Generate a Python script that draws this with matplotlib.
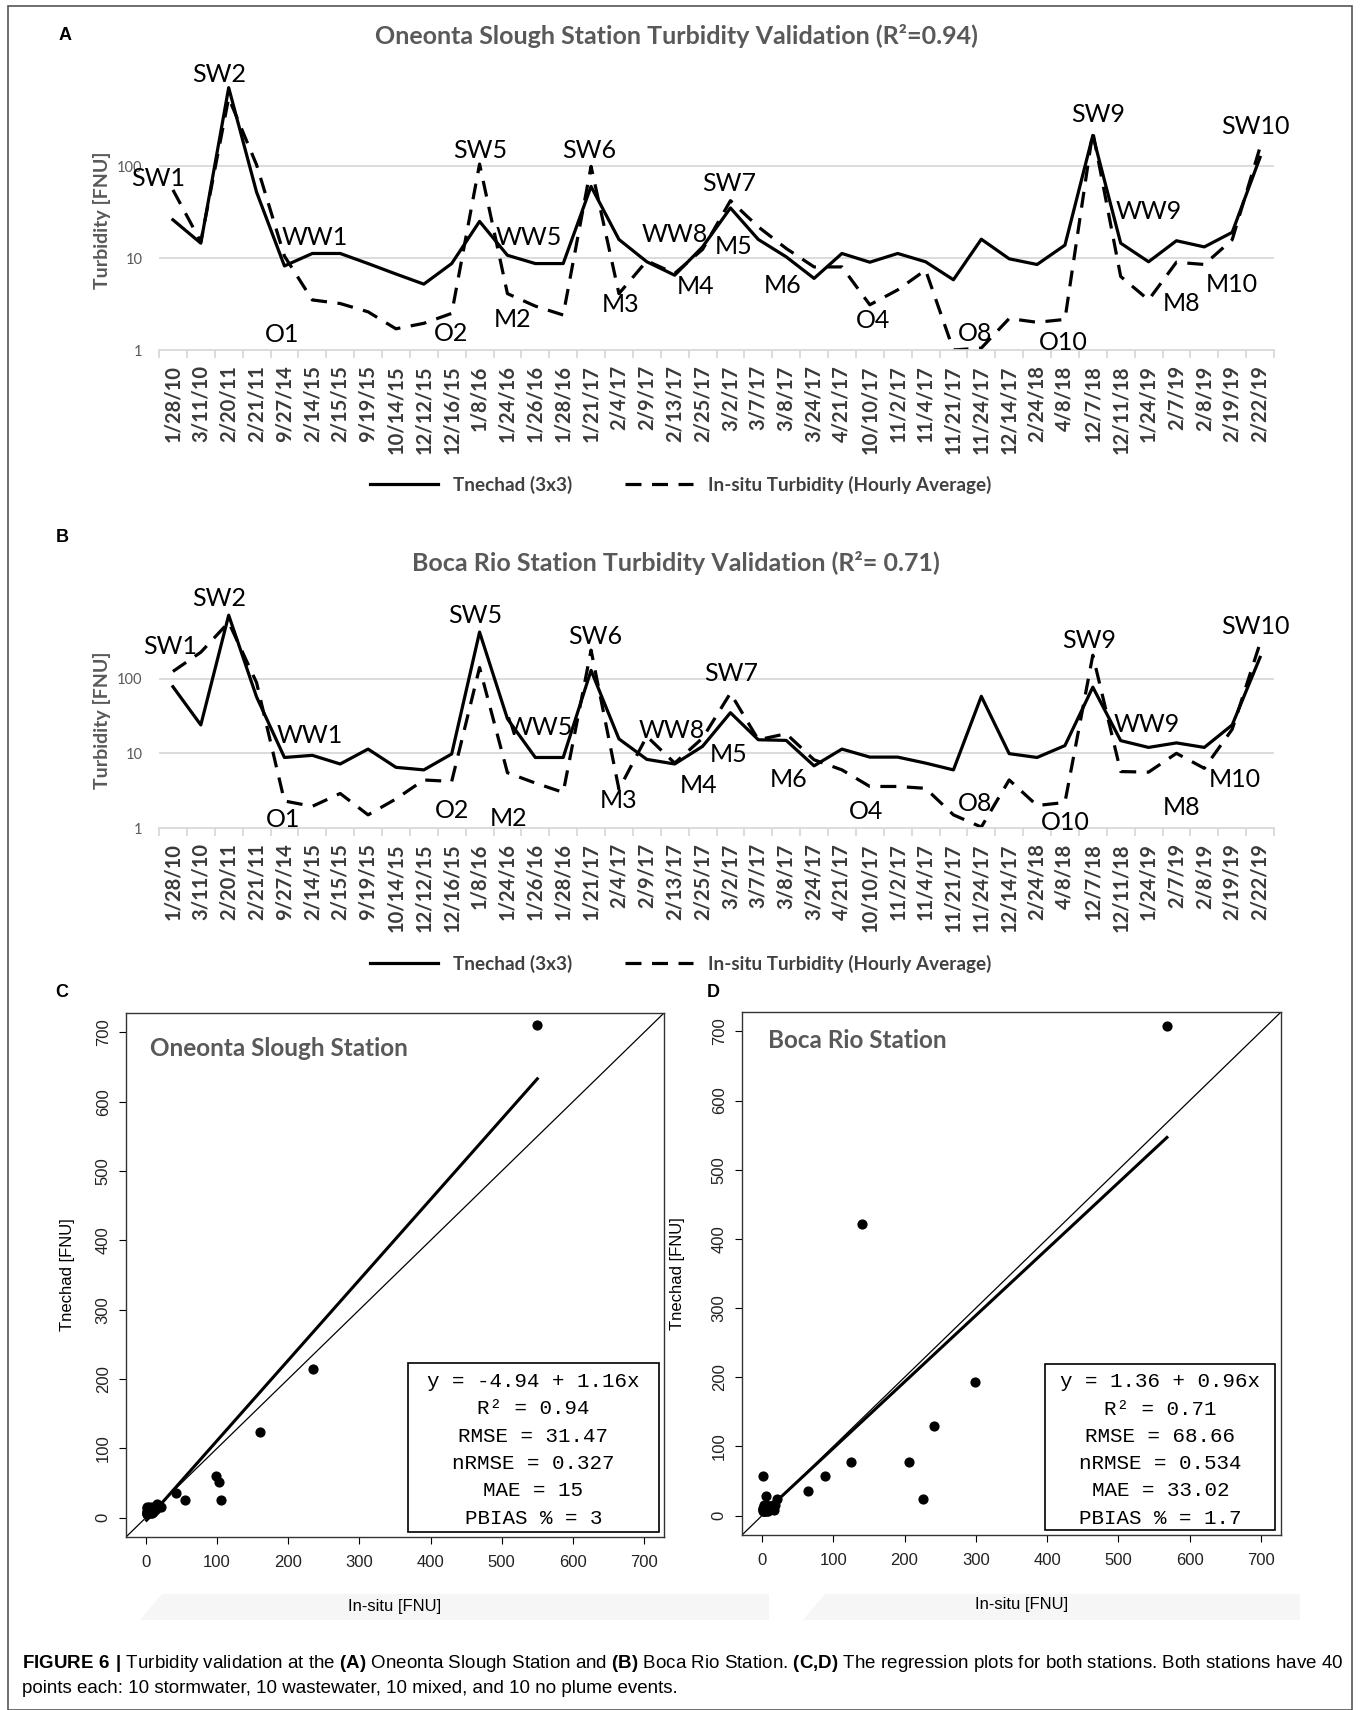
import numpy as np
import matplotlib
matplotlib.use('Agg')
import matplotlib.pyplot as plt
from matplotlib.lines import Line2D
from matplotlib.patches import Rectangle, Polygon
from matplotlib.ticker import NullLocator

plt.rcParams['font.family'] = ['Lato', 'DejaVu Sans']
plt.rcParams['mathtext.fontset'] = 'custom'
plt.rcParams['mathtext.rm'] = 'Liberation Sans'
plt.rcParams['mathtext.bf'] = 'Liberation Sans:bold'

# event dates (x axis of A and B)
dates = ['1/28/10', '3/11/10', '2/20/11', '2/21/11', '9/27/14', '2/14/15', '2/15/15', '9/19/15',
         '10/14/15', '12/12/15', '12/16/15', '1/8/16', '1/24/16', '1/26/16', '1/28/16', '1/21/17',
         '2/4/17', '2/9/17', '2/13/17', '2/25/17', '3/2/17', '3/7/17', '3/8/17', '3/24/17',
         '4/21/17', '10/10/17', '11/2/17', '11/4/17', '11/21/17', '11/24/17', '12/14/17', '2/24/18',
         '4/8/18', '12/7/18', '12/11/18', '1/24/19', '2/7/19', '2/8/19', '2/19/19', '2/22/19']

# Oneonta Slough: satellite (Tnechad) and in-situ turbidity [FNU]
tn_a = [26, 14.5, 710, 52, 8.2, 11.2, 11.2, 8.7, 6.7, 5.2, 8.7, 25, 10.7, 8.7, 8.7, 60,
        15.9, 9.1, 6.5, 13.2, 35, 15.9, 10.3, 6.0, 11.2, 9.0, 11.2, 9.1, 5.8, 16,
        9.8, 8.5, 13.8, 215, 14.5, 9.1, 15.4, 13.2, 19, 124]
is_a = [55, 15, 550, 103, 10.5, 3.5, 3.2, 2.6, 1.7, 1.95, 2.5, 105, 4.1, 3.0, 2.4, 99,
        4.1, 9.3, 6.8, 12.4, 42, 21.8, 12.7, 8.0, 8.0, 3.1, 4.5, 7.4, 1.0, 1.05,
        2.2, 2.0, 2.15, 235, 6.3, 3.5, 9.0, 8.5, 15.8, 160]

# Boca Rio
tn_b = [78, 24, 708, 57, 8.8, 9.4, 7.2, 11.4, 6.5, 6.0, 9.8, 421, 29, 8.8, 8.8, 129,
        15.6, 8.3, 7.2, 12.4, 35, 15.2, 14.9, 6.8, 11.4, 8.9, 8.9, 7.4, 6.0, 58,
        9.9, 8.8, 12.7, 77, 14.8, 12.0, 13.8, 12.0, 24, 193]
is_b = [125, 226, 568, 88.5, 2.3, 1.95, 2.9, 1.5, 2.45, 4.4, 4.2, 141, 5.5, 4.0, 3.0, 241,
        3.3, 16.9, 7.4, 16, 64, 15.2, 18.3, 8.2, 6.0, 3.6, 3.6, 3.4, 1.5, 1.03,
        4.4, 2.0, 2.2, 206, 5.7, 5.6, 10, 6.3, 21, 299]

event_names = ['SW1', 'SW2', 'WW1', 'O1', 'SW5', 'O2', 'WW5', 'M2', 'SW6', 'M3', 'WW8', 'M4',
               'M5', 'SW7', 'M6', 'O4', 'O8', 'O10', 'SW9', 'WW9', 'M8', 'M10', 'SW10']
# where the event names sit (category position, turbidity)
names_pos_a = [(-0.54, 74), (1.65, 977), (5.1, 16.9), (3.91, 1.49), (11.04, 149), (9.97, 1.53),
               (12.78, 16.9), (12.17, 2.17), (14.95, 149), (16.05, 3.16), (18.0, 17.8), (18.75, 4.96),
               (20.1, 13.2), (19.97, 65), (21.88, 5.0), (25.1, 2.07), (28.77, 1.53), (31.94, 1.22),
               (33.2, 367), (34.99, 32.4), (36.2, 3.24), (37.97, 5.2), (38.85, 272)]
names_pos_b = [(-0.11, 273), (1.65, 1175), (4.92, 17.6), (3.95, 1.28), (10.84, 692), (10.0, 1.74),
               (13.17, 22.4), (12.05, 1.32), (15.14, 372), (16.0, 2.37), (17.9, 20.5), (18.84, 3.76),
               (19.95, 9.5), (20.03, 118), (22.1, 4.4), (24.86, 1.64), (28.77, 2.16), (32.0, 1.17),
               (32.86, 324), (34.94, 24), (36.2, 1.91), (38.1, 4.4), (38.82, 500)]

# regression results (intercept, slope) and statistics
fit_c = (-4.94, 1.16)
fit_d = (1.36, 0.96)
stats_c = ['y = -4.94 + 1.16x', 'R² = 0.94', 'RMSE = 31.47', 'nRMSE = 0.327', 'MAE = 15', 'PBIAS % = 3']
stats_d = ['y = 1.36 + 0.96x', 'R² = 0.71', 'RMSE = 68.66', 'nRMSE = 0.534', 'MAE = 33.02', 'PBIAS % = 1.7']

W, H = 1360, 1710
GRAY = '#595959'
GRID = '#d9d9d9'


def fx(x):
    return x / W


def fy(y):
    return 1 - y / H


def rect(l, t, r, b):
    return [l / W, 1 - b / H, (r - l) / W, (b - t) / H]


fig = plt.figure(figsize=(W / 100, H / 100), dpi=100)


def line_panel(ax, tn, ins, names_pos, ylab_y, legend_y):
    x = np.arange(len(dates))
    for g in (10, 100):
        ax.axhline(g, color=GRID, lw=1.3, zorder=0)
    ax.plot(x, tn, color='black', lw=2.3)
    ax.plot(x, ins, color='black', lw=2.3, dashes=(5, 3.3))
    ax.set_yscale('log')
    ax.set_ylim(1, 1000)
    ax.set_xlim(-0.5, len(dates) - 0.5)
    ax.set_yticks([1, 10, 100], ['1', '10', '100'])
    ax.yaxis.set_minor_locator(NullLocator())
    ax.tick_params(axis='y', length=0, labelsize=10.5, labelcolor=GRAY, pad=12)
    ax.set_xticks(x, dates, rotation=90, fontsize=14.5, fontweight='bold', color='#3a3a3a')
    ax.set_xticks(np.arange(-0.5, len(dates)), minor=True)
    ax.tick_params(axis='x', which='major', length=0, pad=11)
    ax.tick_params(axis='x', which='minor', length=6, color=GRID, width=1.3)
    for s in ['top', 'left', 'right']:
        ax.spines[s].set_visible(False)
    ax.spines['bottom'].set_color(GRID)
    ax.spines['bottom'].set_linewidth(1.3)
    ax.set_ylabel('Turbidity [FNU]', fontsize=14, fontweight='bold', color=GRAY)
    ax.yaxis.set_label_coords(-0.043, ylab_y)
    for name, (xc, yv) in zip(event_names, names_pos):
        ax.text(xc, yv, name, ha='center', va='center', fontsize=18)
    handles = [Line2D([], [], color='black', lw=2.3),
               Line2D([], [], color='black', lw=2.3, dashes=(5, 3.3))]
    ax.legend(handles, ['Tnechad (3x3)', 'In-situ Turbidity (Hourly Average)'],
              loc='center', bbox_to_anchor=(fx(681), fy(legend_y)), bbox_transform=fig.transFigure,
              ncol=2, frameon=False, handlelength=3.6, handletextpad=0.8, columnspacing=2.8,
              prop={'weight': 'bold', 'size': 13.6}, labelcolor='#404040')


def scatter_panel(ax, ins, tn, fit, stats, title, title_xy, stat_box, stat_top, stat_x, xlab_x, ylab_x):
    ax.scatter(ins, tn, s=40, color='black', zorder=3)
    xx = np.array([min(ins), max(ins)])
    ax.plot(xx, fit[0] + fit[1] * xx, color='black', lw=2.2)
    ax.plot([-28, 728], [-28, 728], color='black', lw=0.9)
    ax.set_xlim(-28, 728)
    ax.set_ylim(-28, 728)
    ticks = np.arange(0, 701, 100)
    ax.set_xticks(ticks, [str(t) for t in ticks], family='Liberation Sans', fontsize=12)
    ax.set_yticks(ticks, [str(t) for t in ticks], family='Liberation Sans', fontsize=12,
                  rotation=90, va='center')
    ax.tick_params(axis='x', direction='out', length=5, width=0.8, pad=8, labelcolor='#222222')
    ax.tick_params(axis='y', direction='out', length=5, width=0.8, pad=6, labelcolor='#222222')
    for s in ax.spines.values():
        s.set_linewidth(1.0)
        s.set_color('#333333')
    ax.set_xlabel('In-situ [FNU]', family='Liberation Sans', fontsize=12)
    ax.set_ylabel('Tnechad [FNU]', family='Liberation Sans', fontsize=12)
    ax.xaxis.set_label_coords(xlab_x, -0.118)
    ax.yaxis.set_label_coords(ylab_x, 0.5)
    ax.text(title_xy[0], title_xy[1], title, transform=ax.transAxes, fontsize=17.5,
            fontweight='bold', color=GRAY, va='center', ha='left')
    l, b, r, t = stat_box
    ax.add_patch(Rectangle((l, b), r - l, t - b, transform=ax.transAxes, fill=True,
                           fc='white', ec='black', lw=1.2, zorder=4))
    for i, s in enumerate(stats):
        ax.text(stat_x, stat_top - i * 0.0522, s, transform=ax.transAxes, ha='center', va='center',
                family='Liberation Mono', fontsize=15, zorder=5)


# panel A and B (log line charts)
ax_a = fig.add_axes(rect(159, 74, 1274, 350))
line_panel(ax_a, tn_a, is_a, names_pos_a, 0.47, 485)
ax_b = fig.add_axes(rect(159, 604, 1274, 828))
line_panel(ax_b, tn_b, is_b, names_pos_b, 0.48, 964)

fig.text(fx(676), fy(36), 'Oneonta Slough Station Turbidity Validation (R²=0.94)', ha='center',
         va='center', fontsize=18, fontweight='bold', color=GRAY)
fig.text(fx(676), fy(563), 'Boca Rio Station Turbidity Validation (R²= 0.71)', ha='center',
         va='center', fontsize=18, fontweight='bold', color=GRAY)

# light band behind the x labels of C and D
for x0, x1 in [(122, 769), (785, 1300)]:
    fig.add_artist(Polygon([(fx(x0 + 18), fy(1620)), (fx(x0 + 40), fy(1594)), (fx(x1), fy(1594)),
                            (fx(x1), fy(1620))], closed=True, transform=fig.transFigure,
                           fc='#f6f6f6', ec='none', zorder=0))

# panel C and D (regressions)
ax_c = fig.add_axes(rect(126, 1013, 664, 1537))
scatter_panel(ax_c, is_a, tn_a, fit_c, stats_c, 'Oneonta Slough Station', (0.045, 0.933),
              (0.524, 0.0095, 0.991, 0.332), 0.297, 0.757, 0.5, -0.095)
ax_d = fig.add_axes(rect(742, 1012, 1281, 1535))
scatter_panel(ax_d, is_b, tn_b, fit_d, stats_d, 'Boca Rio Station', (0.048, 0.945),
              (0.562, 0.0096, 0.989, 0.327), 0.293, 0.776, 0.518, -0.106)

for letter, x, y in [('A', 65, 36), ('B', 62, 538), ('C', 62, 992), ('D', 713, 992)]:
    fig.text(fx(x), fy(y), letter, ha='center', va='center', fontsize=13, fontweight='bold',
             family='Liberation Sans')

# caption
cap1 = (r'$\mathbf{FIGURE\ 6\ |}$ Turbidity validation at the $\mathbf{(A)}$ Oneonta Slough Station and '
        r'$\mathbf{(B)}$ Boca Rio Station. $\mathbf{(C{,}D)}$ The regression plots for both stations. '
        r'Both stations have 40')
cap2 = 'points each: 10 stormwater, 10 wastewater, 10 mixed, and 10 no plume events.'
fig.text(fx(22), fy(1663), cap1, fontsize=13.5, family='Liberation Sans', va='center')
fig.text(fx(22), fy(1688), cap2, fontsize=13.5, family='Liberation Sans', va='center')

# outer frame
fig.add_artist(Rectangle((fx(8), 0), (1352 - 8) / W, fy(6), transform=fig.transFigure,
                         fill=False, ec='#555555', lw=1.2))

fig.savefig('out.png', dpi=100, facecolor='white')
